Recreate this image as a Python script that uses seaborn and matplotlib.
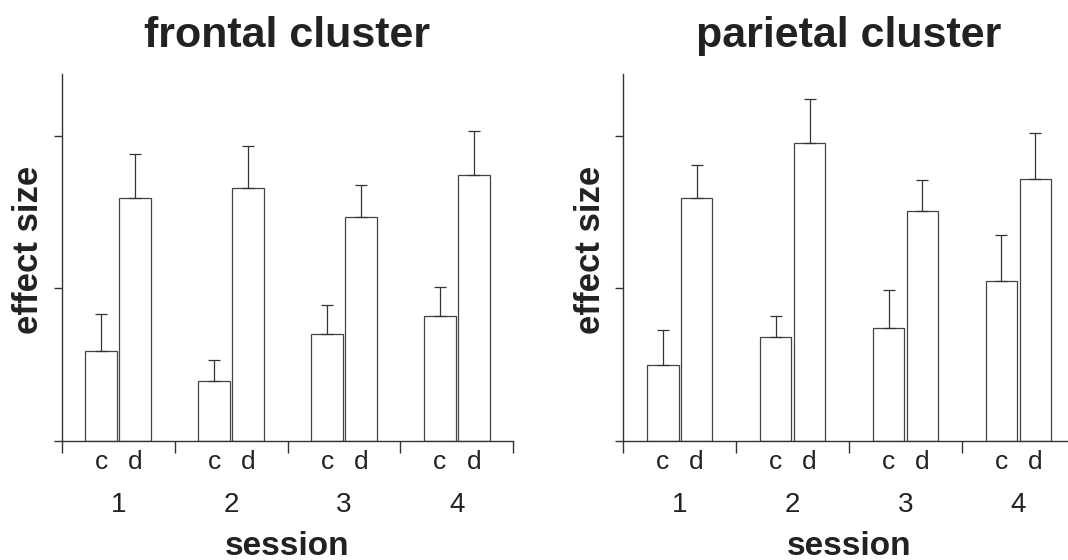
import numpy as np
import pandas as pd
import matplotlib
matplotlib.use('Agg')
import matplotlib.pyplot as plt
import seaborn as sns

sns.set_style('white')
plt.rcParams['font.family'] = ['Liberation Sans', 'DejaVu Sans']

# data (arbitrary effect size units, ticks at 0,1,2)
sessions = ['1', '2', '3', '4']
conds = ['c', 'd']

frontal_c = [0.59, 0.39, 0.70, 0.82]
frontal_c_err = [0.24, 0.14, 0.19, 0.19]
frontal_d = [1.59, 1.66, 1.47, 1.74]
frontal_d_err = [0.29, 0.27, 0.21, 0.29]

parietal_c = [0.50, 0.68, 0.74, 1.05]
parietal_c_err = [0.23, 0.14, 0.25, 0.30]
parietal_d = [1.59, 1.95, 1.51, 1.72]
parietal_d_err = [0.22, 0.29, 0.20, 0.30]

txt = '#222222'
line = '#333333'


def make_df(c, c_err, d, d_err):
    rows = []
    for i, s in enumerate(sessions):
        rows.append({'session': s, 'cond': 'c', 'value': c[i], 'err': c_err[i]})
        rows.append({'session': s, 'cond': 'd', 'value': d[i], 'err': d_err[i]})
    return pd.DataFrame(rows)


def panel(ax, df, title):
    sns.barplot(data=df, x='session', y='value', hue='cond', hue_order=conds,
                palette=['white', 'white'], edgecolor='#444444', linewidth=0.9,
                width=0.6, gap=0.07, errorbar=None, legend=False, ax=ax)
    # bar centres from the drawn patches, left to right: 1c 1d 2c 2d ...
    bars = sorted(ax.patches, key=lambda p: p.get_x())
    xs = [p.get_x() + p.get_width() / 2 for p in bars]
    hs = [p.get_height() for p in bars]
    errs = list(df['err'])
    labs = list(df['cond'])
    ax.errorbar(xs, hs, yerr=[np.zeros(len(errs)), errs], fmt='none',
                ecolor=line, elinewidth=0.9, capsize=4, capthick=0.9, zorder=5)

    ax.set_xlim(-0.5, 3.5)
    ax.set_ylim(0, 2.405)
    sns.despine(ax=ax)
    for sp in ['left', 'bottom']:
        ax.spines[sp].set_color(line)
        ax.spines[sp].set_linewidth(1.0)

    ax.set_yticks([0, 1, 2])
    ax.set_yticklabels([])
    ax.tick_params(axis='y', left=True, direction='out', length=6,
                   width=1.0, color=line)

    # session numbers on the major ticks, group boundaries as minor ticks
    ax.set_xticks(range(len(sessions)))
    ax.set_xticklabels(sessions)
    ax.tick_params(axis='x', which='major', bottom=True, length=0, pad=37,
                   labelsize=20, labelcolor=txt)
    ax.set_xticks(np.arange(-0.5, len(sessions)), minor=True)
    ax.tick_params(axis='x', which='minor', bottom=True, direction='out',
                   length=8.4, width=1.0, color=line)

    for x, lab in zip(xs, labs):
        ax.text(x, -0.0763, lab, transform=ax.get_xaxis_transform(),
                ha='center', va='baseline', fontsize=19, color=txt)

    ax.set_title(title, fontsize=31, fontweight='bold', color=txt, pad=19.5)
    ax.set_xlabel('session', fontsize=24, fontweight='bold', color=txt)
    ax.xaxis.set_label_coords(0.5, -0.311)
    ax.xaxis.label.set_va('baseline')
    ax.set_ylabel('effect size', fontsize=25, fontweight='bold', color=txt)
    ax.yaxis.set_label_coords(-0.052, 0.52)
    ax.yaxis.label.set_va('baseline')


fig = plt.figure(figsize=(10.68, 5.6), dpi=100)
ax1 = fig.add_axes([0.0578, 0.2125, 0.4228, 0.6554])
ax2 = fig.add_axes([0.5836, 0.2125, 0.4228, 0.6554])

panel(ax1, make_df(frontal_c, frontal_c_err, frontal_d, frontal_d_err), 'frontal cluster')
panel(ax2, make_df(parietal_c, parietal_c_err, parietal_d, parietal_d_err), 'parietal cluster')

fig.savefig('out.png', dpi=100, facecolor='white')
